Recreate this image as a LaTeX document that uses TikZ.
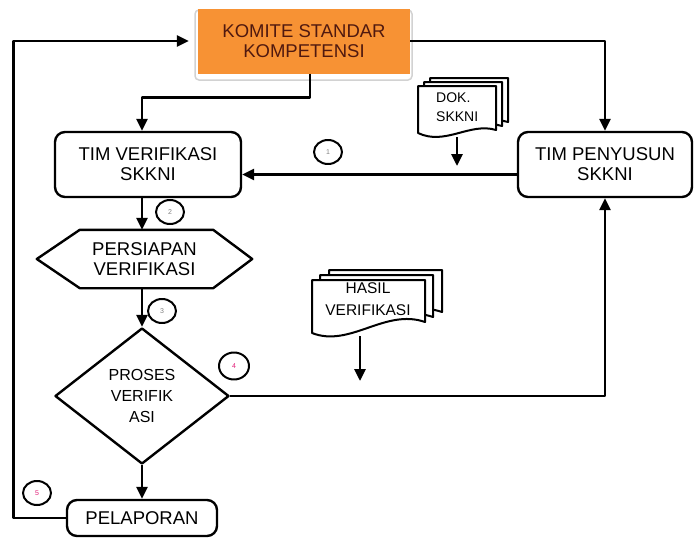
\documentclass[tikz,border=0pt]{standalone}
\usepackage{fontspec}
\setmainfont{Liberation Sans}
\usetikzlibrary{shapes.geometric,arrows.meta}
\definecolor{kso}{RGB}{247,146,52}
\definecolor{ksbr}{RGB}{80,25,15}
\definecolor{pinkn}{RGB}{225,30,120}
\begin{document}
\begin{tikzpicture}[x=1pt,y=-1pt,line join=round,
  ln/.style={line width=2.8pt},
  arr/.style={ln,-{Triangle[width=11pt,length=12pt]}},
  box/.style={draw,line width=2.4pt,rounded corners=10pt,align=center,font=\fontsize{18.5}{20}\selectfont,inner sep=0pt},
  num/.style={draw,line width=2pt,ellipse,minimum width=28pt,minimum height=24pt,inner sep=0pt,font=\fontsize{7}{7}\selectfont,text=gray},
  docpage/.style={draw,line width=2pt,fill=white}]
\useasboundingbox (0,0) rectangle (694,538);

% Komite
\draw[gray!35,line width=1.5pt,fill=white,rounded corners=4pt] (195,10) rectangle (412,80);
\node[fill=kso,minimum width=212pt,minimum height=65pt,inner sep=0pt,align=center,
      font=\fontsize{18.5}{20}\selectfont,text=ksbr] (komite) at (304,41) {KOMITE STANDAR\\KOMPETENSI};

% Boxes
\node[box,minimum width=186pt,minimum height=65pt] (verif) at (148,164.5) {TIM VERIFIKASI\\SKKNI};
\node[box,minimum width=174pt,minimum height=65pt] (penyusun) at (605,164.5) {TIM PENYUSUN\\SKKNI};
\node[minimum width=215pt,minimum height=58pt,inner sep=0pt,align=center,
      font=\fontsize{18.5}{20}\selectfont] (persiapan) at (144.5,259) {PERSIAPAN\\VERIFIKASI};
\draw[line width=2.4pt] (persiapan.west) -- ([xshift=43pt]persiapan.north west)
  -- ([xshift=-39pt]persiapan.north east) -- (persiapan.east)
  -- ([xshift=-39pt]persiapan.south east) -- ([xshift=43pt]persiapan.south west) -- cycle;
\node[draw,line width=2.4pt,diamond,minimum width=174pt,minimum height=136pt,inner sep=0pt,
      align=center,font=\fontsize{16}{21}\selectfont] (proses) at (142,396) {PROSES\\VERIFIK\\ASI};
\node[box,minimum width=150pt,minimum height=36pt] (pelaporan) at (142,518) {PELAPORAN};

% Document stack DOK
\foreach \dx/\dy in {12/-8,6/-4,0/0}{
  \begin{scope}[shift={(\dx,\dy)}]
    \draw[docpage] (418,133) -- (418,86) -- (496,86) -- (496,130)
      .. controls (470,122) and (445,146) .. (418,133) -- cycle;
  \end{scope}}
\node[align=left,font=\fontsize{14}{19}\selectfont,inner sep=0pt,anchor=west] (dok) at (436,107.5) {DOK.\\SKKNI};
\coordinate (dokbot) at (457,137);
\coordinate (doktip) at (457,166);
\draw[arr] (dokbot) -- (doktip);

% Document stack HASIL
\foreach \dx/\dy in {17/-10,8/-5,0/0}{
  \begin{scope}[shift={(\dx,\dy)}]
    \draw[docpage] (312,333) -- (312,280) -- (425,280) -- (425,322)
      .. controls (385,308) and (350,348) .. (312,333) -- cycle;
  \end{scope}}
\node[align=center,font=\fontsize{15.5}{22}\selectfont,inner sep=0pt] (hasil) at (368,299) {HASIL\\VERIFIKASI};
\coordinate (hasilbot) at (360,336);
\coordinate (hasiltip) at (360,381);
\draw[arr] (hasilbot) -- (hasiltip);

% Connectors
\draw[arr] (komite.east) -| (penyusun.north);
\draw[arr] ([xshift=6pt]komite.south) -- ++(0,24) -| (verif.north -| proses.north);
\draw[arr] (verif.south -| proses.north) -- (persiapan.north -| proses.north);
\draw[arr] (persiapan.south -| proses.north) -- (proses.north);
\draw[arr] (proses.south) -- (pelaporan.north);
\draw[arr] (proses.east) -| (penyusun.south);
\draw[arr] ([yshift=-10pt]penyusun.west) -- ([yshift=-10pt]penyusun.west -| verif.east);
\draw[arr] (pelaporan.west) -- ++(-52,0) |- ([xshift=-9pt]komite.west);

% Numbered circles
\node[num] (n1) at (328,152) {1};
\node[num] (n2) at (170,212) {2};
\node[num] (n3) at (162,311) {3};
\node[num,minimum width=30pt,minimum height=27pt,text=pinkn] (n4) at (234,366) {4};
\node[num,text=pinkn] (n5) at (37,493) {5};
\end{tikzpicture}
\end{document}
